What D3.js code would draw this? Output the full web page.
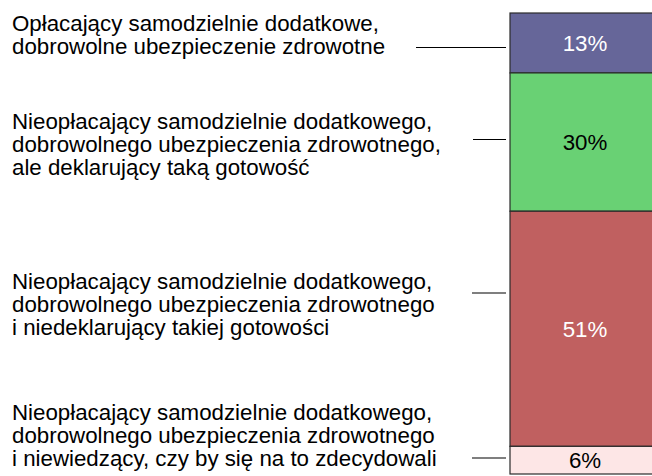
<!DOCTYPE html>
<html lang="pl">
<head>
    <meta charset="UTF-8">
    <title>Dodatkowe ubezpieczenie zdrowotne</title>
    <script src="https://d3js.org/d3.v7.min.js"></script>
    <style>
        body { margin: 0; background: #fff; }
        text { font-family: "Liberation Sans", Arial, sans-serif; }
    </style>
</head>
<body>
    <svg id="svg" width="652" height="476"></svg>
    <script>
        // Data
        const categories = [
            ["Opłacający samodzielnie dodatkowe,", "dobrowolne ubezpieczenie zdrowotne"],
            ["Nieopłacający samodzielnie dodatkowego,", "dobrowolnego ubezpieczenia zdrowotnego,", "ale deklarujący taką gotowość"],
            ["Nieopłacający samodzielnie dodatkowego,", "dobrowolnego ubezpieczenia zdrowotnego", "i niedeklarujący takiej gotowości"],
            ["Nieopłacający samodzielnie dodatkowego,", "dobrowolnego ubezpieczenia zdrowotnego", "i niewiedzący, czy by się na to zdecydowali"]
        ];
        const values = [13, 30, 51, 6];
        const colors = ["#666699", "#69d174", "#c06060", "#fde6e6"];
        const labelColors = ["#fff", "#000", "#fff", "#000"];

        // Layout
        const barX = 510, barW = 150, barTop = 13, barBottom = 474;
        const fontSize = 22.3, lineH = 23.1;
        const textX = 12;
        const textY = [31, 128.5, 288.5, 420];   // first baseline of each label block
        const leaderY = [47.5, 139.5, 293, 458];
        const leaderX1 = [416, 473, 472, 472];
        const leaderX2 = 506;

        const svg = d3.select("#svg");

        // cumulative stack from the top
        const stacked = [];
        let acc = 0;
        values.forEach((v, i) => {
            stacked.push({i: i, v: v, y0: acc, y1: acc + v});
            acc += v;
        });

        const y = d3.scaleLinear().domain([0, 100]).range([barTop, barBottom]);

        const seg = svg.append("g").selectAll("g")
            .data(stacked)
            .enter().append("g");

        seg.append("rect")
            .attr("x", barX)
            .attr("y", d => y(d.y0))
            .attr("width", barW)
            .attr("height", d => y(d.y1) - y(d.y0))
            .attr("fill", d => colors[d.i])
            .attr("stroke", "#2a2a2a")
            .attr("stroke-width", 1.2);

        seg.append("text")
            .attr("x", barX + barW / 2)
            .attr("y", d => (y(d.y0) + y(d.y1)) / 2)
            .attr("dy", "0.36em")
            .attr("text-anchor", "middle")
            .attr("font-size", fontSize)
            .attr("fill", d => labelColors[d.i])
            .text(d => d.v + "%");

        // leader lines
        svg.append("g").selectAll("line")
            .data(categories)
            .enter().append("line")
            .attr("x1", (d, i) => leaderX1[i])
            .attr("x2", leaderX2)
            .attr("y1", (d, i) => leaderY[i])
            .attr("y2", (d, i) => leaderY[i])
            .attr("stroke", "#000")
            .attr("stroke-width", 1.2);

        // category labels
        const lab = svg.append("g").selectAll("text")
            .data(categories)
            .enter().append("text")
            .attr("font-size", fontSize)
            .attr("fill", "#000");

        lab.selectAll("tspan")
            .data((d, i) => d.map((t, k) => ({t: t, y: textY[i] + k * lineH})))
            .enter().append("tspan")
            .attr("x", textX)
            .attr("y", d => d.y)
            .text(d => d.t);
    </script>
</body>
</html>
